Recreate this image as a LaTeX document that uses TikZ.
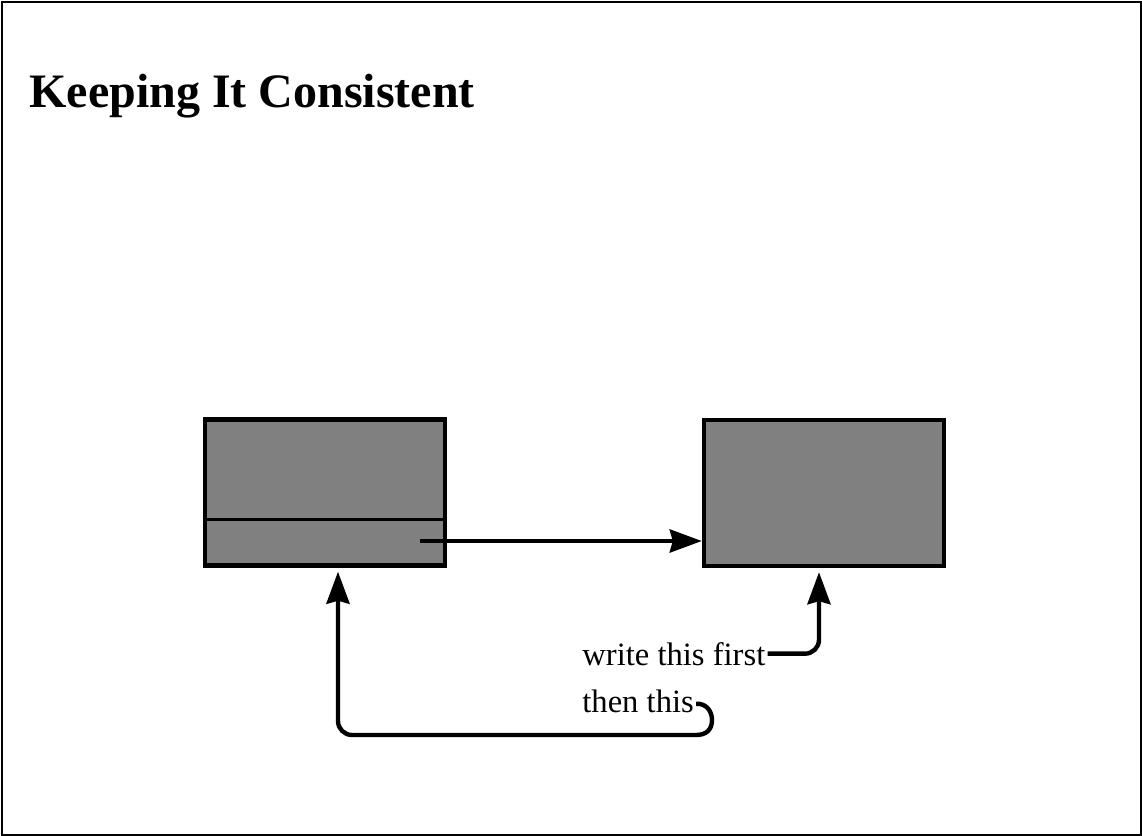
\documentclass[tikz,border=0pt]{standalone}
\usepackage{fontspec}
\setmainfont{Liberation Serif}
\usetikzlibrary{arrows.meta,calc,positioning}

\begin{document}
\begin{tikzpicture}[x=0.5pt,y=-0.5pt,
    block/.style={draw,line width=2.2pt,fill=black!50,minimum width=120pt,minimum height=73pt,inner sep=0pt},
    conn/.style={line width=2.2pt,-{Stealth[length=16pt,width=11.5pt,inset=1.5pt]}},
    lbl/.style={font=\fontsize{16.3}{19}\selectfont,inner sep=0pt,anchor=base west}]
        \useasboundingbox (0,0) rectangle (1142,836);
        \draw[line width=1pt] (1.5,1.5) rectangle (1140.5,834.5);
        \node[font=\fontsize{24}{28}\selectfont\bfseries,anchor=base west,inner sep=0pt] (title) at (29,107) {Keeping It Consistent};

        \node[block] (rec) at (325,492.5) {};
        \node[block] (copy) at (824,493) {};
        \draw[line width=1.5pt] (rec.west |- 0,519) -- (rec.east |- 0,519);

        \coordinate (ptr) at (420,541);
        \draw[conn] (ptr) -- (ptr -| copy.west);

        \node[lbl] (first) at (582,665) {write this first};
        \node[lbl] (then) at (582,712) {then this};

        \draw[conn,rounded corners=7pt] ([xshift=1pt]first.east) -| ($(copy.south)+(-5,4)$);
        \draw[conn] ([xshift=1pt,yshift=-1.5pt]then.east) .. controls (706,703) and (712,711) .. (712,720)
          .. controls (712,730) and (706,735) .. (696,735)
          [rounded corners=7pt] -- (338,735) -- ($(rec.south)+(13,4)$);
\end{tikzpicture}
\end{document}
